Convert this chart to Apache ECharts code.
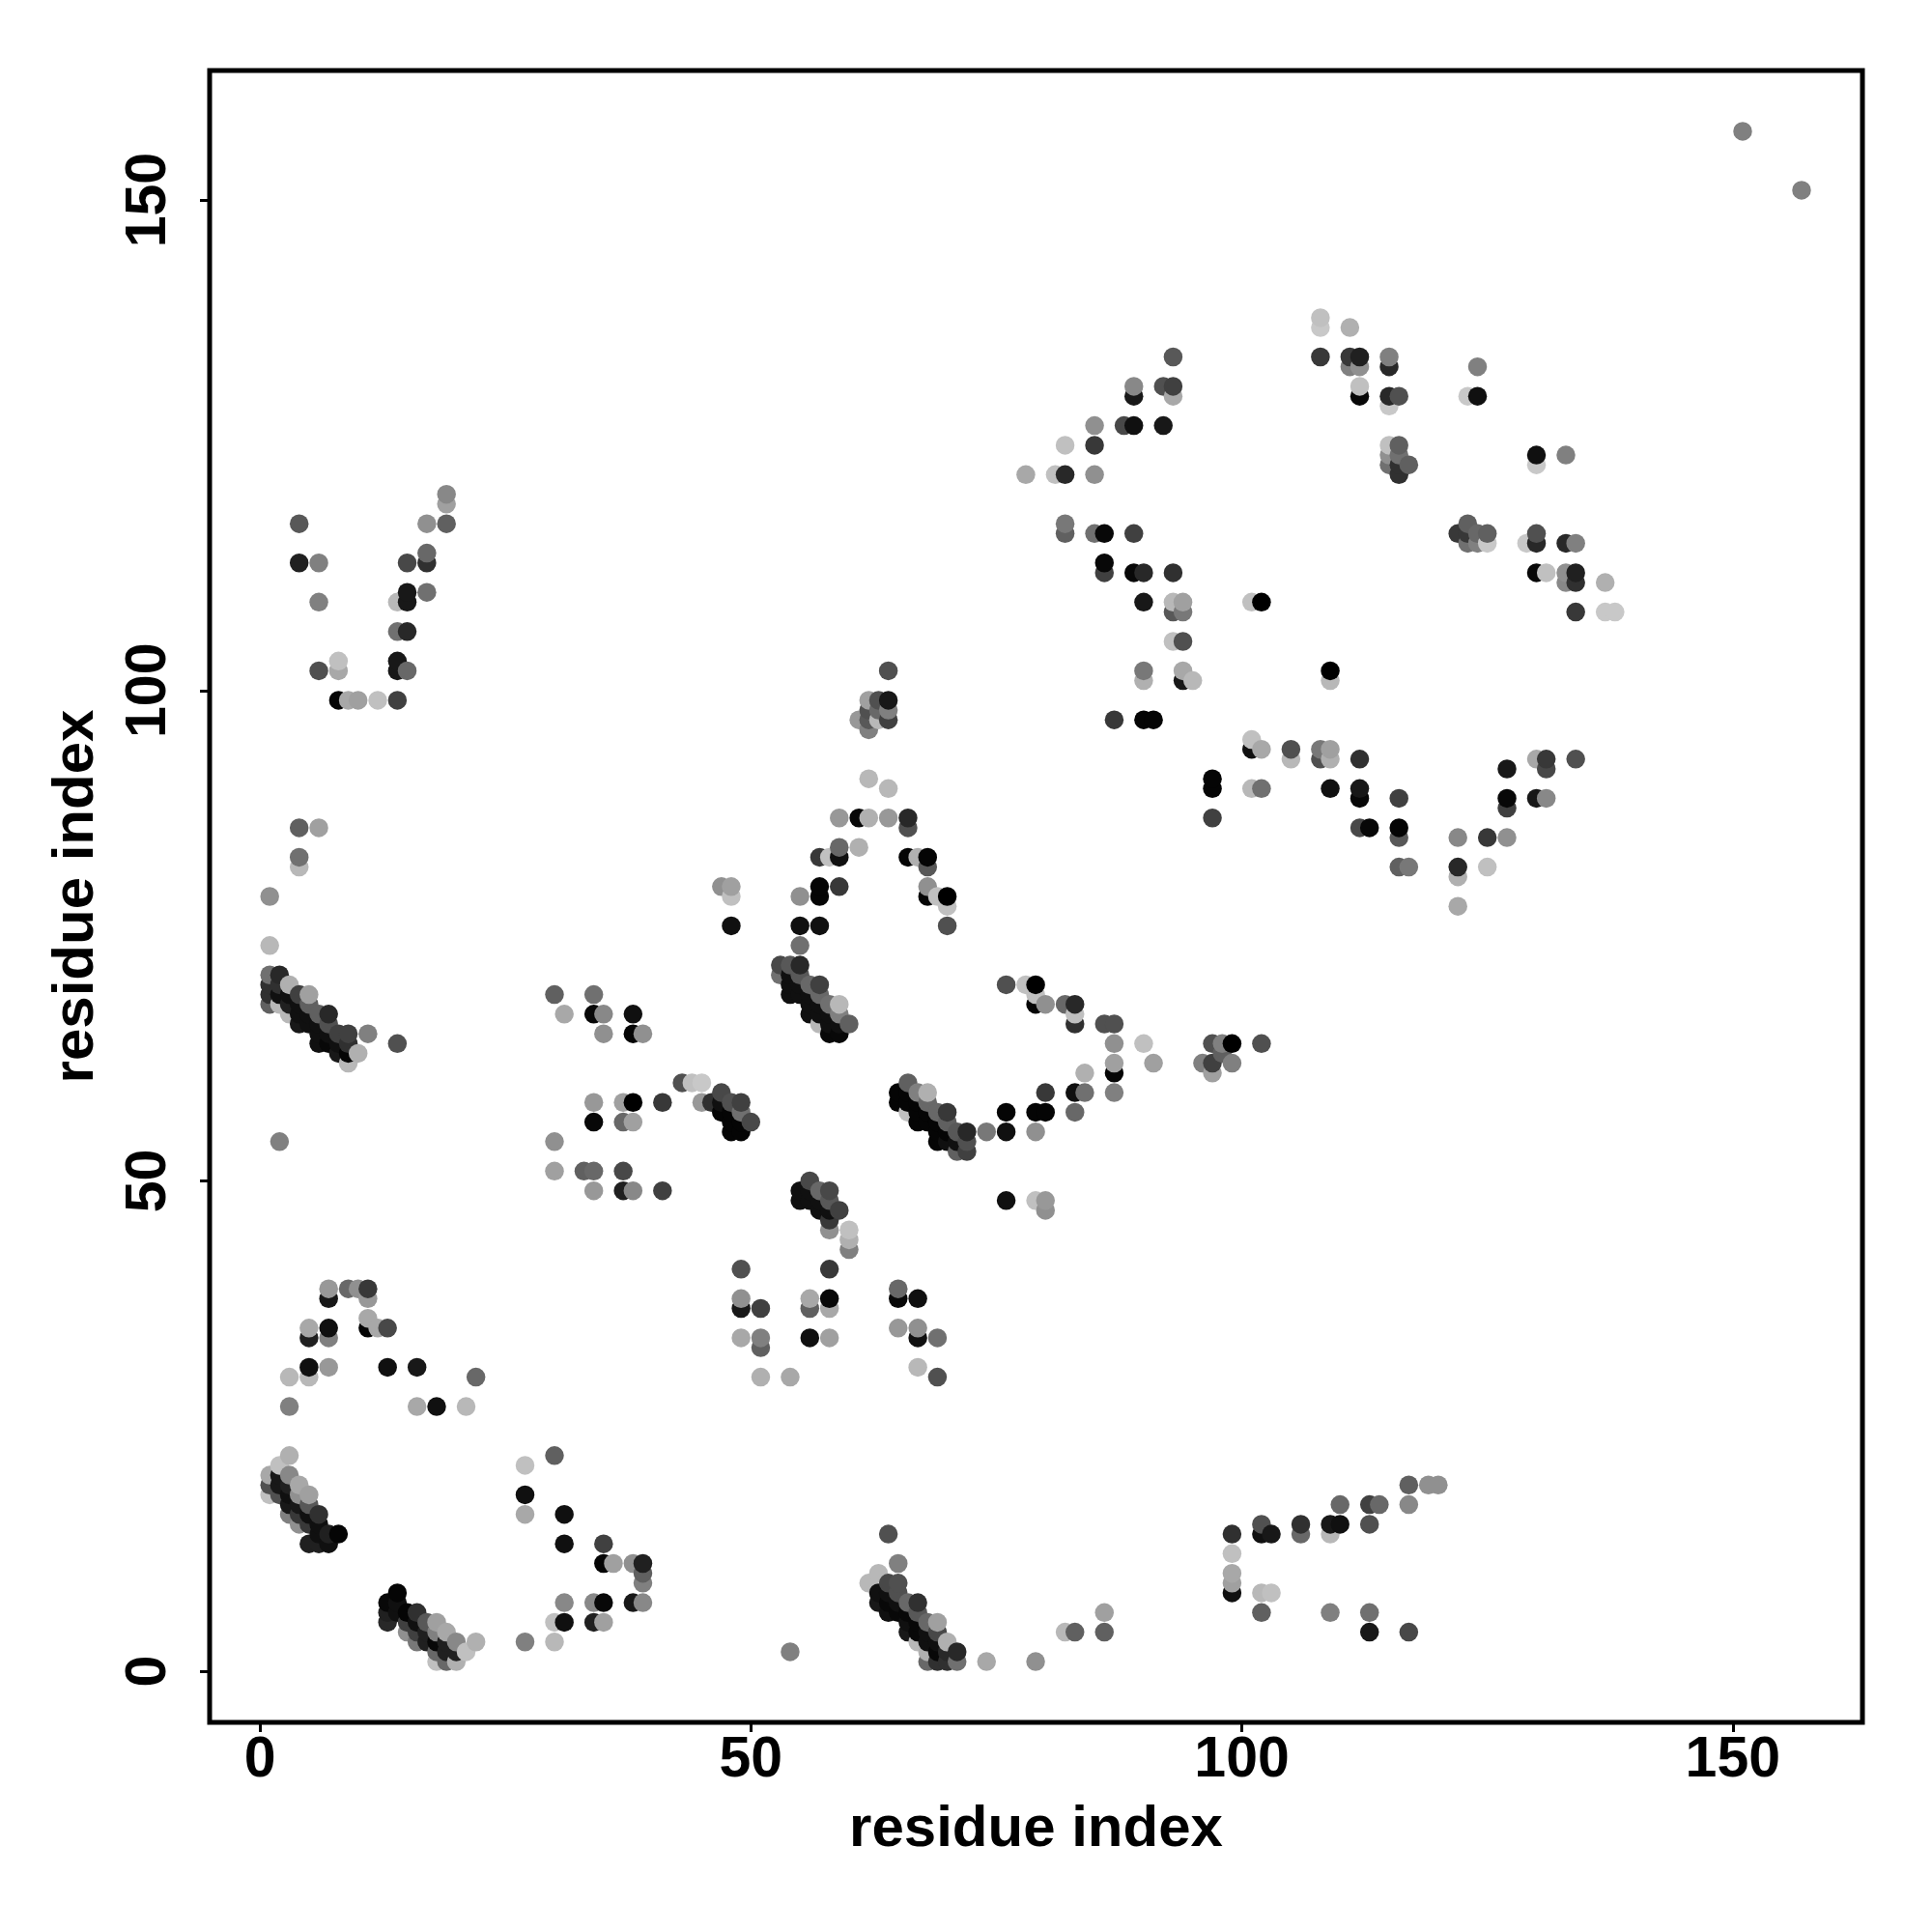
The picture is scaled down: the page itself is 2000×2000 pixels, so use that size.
<!DOCTYPE html>
<html>
<head>
<meta charset="utf-8">
<style>html,body{margin:0;padding:0;background:#fff}#c{width:2000px;height:2000px}</style>
<script src="https://cdn.jsdelivr.net/npm/echarts@6/dist/echarts.min.js"></script>
</head>
<body>
<div id="c"></div>
<script>
// [residue i, residue j, grey shade]
var helixA=[[1,74,0xb8],[1,71,0x70],[1,70,0x30],[1,69,0x30],[1,68,0x60],[2,71,0x28],[2,70,0x30],[2,69,0x10],[2,68,0xb8],[3,70,0xb0],[3,69,0x10],[3,68,0x20],[3,67,0xb8],[4,69,0x40],[4,68,0x10],[4,67,0x10],[4,66,0x18],[5,69,0xa0],[5,68,0x60],[5,67,0x10],[5,66,0x10],[6,67,0x60],[6,66,0x10],[6,65,0x10],[6,64,0x10],[7,67,0x28],[7,66,0x50],[7,65,0x10],[7,64,0x08],[8,65,0x40],[8,64,0x10],[8,63,0x18],[9,65,0x40],[9,64,0x30],[9,63,0x05],[9,62,0xb8],[10,63,0xb0],[11,65,0x80],[14,64,0x50],[2,54,0x80]];
var helixB=[[53,72,0x48],[54,72,0x58],[55,72,0x28],[53,71,0x70],[54,71,0x10],[55,71,0x58],[54,70,0x10],[55,70,0x10],[56,70,0x68],[57,70,0x40],[54,69,0x10],[55,69,0x10],[56,69,0x10],[57,69,0x68],[56,68,0x10],[57,68,0x10],[58,68,0x70],[59,68,0xb8],[56,67,0x10],[57,67,0x10],[58,67,0x10],[59,67,0x80],[57,66,0xb8],[58,66,0x10],[59,66,0x10],[60,66,0x60],[58,65,0x08],[59,65,0x08]];
var helixC=[[66,60,0x60],[65,59,0x05],[66,59,0x05],[67,59,0x80],[68,59,0xb0],[65,58,0x05],[66,58,0x05],[67,58,0x05],[68,58,0x68],[66,57,0xc0],[67,57,0x05],[68,57,0x05],[69,57,0x68],[70,57,0x38],[67,56,0x05],[68,56,0x05],[69,56,0x05],[70,56,0x60],[69,55,0x05],[70,55,0x05],[71,55,0x58],[72,55,0x28],[74,55,0x78],[76,55,0x10],[79,55,0x90],[69,54,0x05],[70,54,0x10],[71,54,0x10],[72,54,0x50],[71,53,0x60],[72,53,0x40],[76,57,0x05],[79,57,0x05],[80,57,0x05],[80,59,0x38],[76,70,0x50],[78,70,0xc0],[79,70,0x00],[79,69,0xc0],[79,68,0x05],[80,68,0x90]];
var helixD=[[56,50,0x48],[55,49,0x10],[56,49,0x10],[57,49,0x68],[58,49,0x48],[55,48,0x10],[56,48,0x10],[57,48,0x10],[58,48,0x58],[57,47,0x10],[58,47,0x10],[59,47,0x40],[58,46,0x38],[58,45,0x90],[60,45,0xc0],[60,44,0xb0],[60,43,0x80],[76,48,0x10],[79,48,0xc0],[80,48,0x98],[80,47,0x90]];
var sheetE=[[83,57,0x68],[83,59,0x10],[84,59,0x70],[84,61,0xb0],[87,59,0x80],[87,61,0x05],[87,62,0xa0],[87,64,0x90],[86,66,0x50],[87,66,0x50],[83,66,0x30],[83,67,0xc0],[83,68,0x28],[82,68,0x68],[90,64,0xc0],[91,62,0xa0],[96,62,0x80],[97,61,0xa0],[97,62,0x40],[97,64,0x50],[98,64,0x80],[98,63,0x60],[99,64,0x00],[99,62,0x80],[102,64,0x50]];
var midF=[[30,69,0x60],[34,69,0x70],[31,67,0xa8],[34,67,0x08],[35,67,0x88],[38,67,0x10],[35,65,0x90],[38,65,0x05],[39,65,0x90],[34,58,0x98],[37,58,0xa0],[38,58,0x00],[41,58,0x38],[45,58,0x98],[46,58,0x30],[34,56,0x08],[37,56,0x68],[38,56,0xa0],[30,54,0x90],[30,51,0xa0],[33,51,0x60],[34,51,0x68],[37,51,0x48],[34,49,0x98],[37,49,0x20],[38,49,0x88],[41,49,0x40],[43,60,0x50],[44,60,0xc0],[45,60,0xc8],[47,59,0x48],[47,58,0x10],[48,58,0x50],[49,58,0x40],[47,57,0x05],[48,57,0x05],[49,57,0x70],[48,56,0x05],[49,56,0x05],[50,56,0x48],[48,55,0x05],[49,55,0x05]];
var helixG=[[3,22,0xb0],[2,21,0xc0],[1,20,0xa8],[2,20,0x18],[3,20,0x88],[1,19,0x50],[2,19,0x18],[3,19,0x20],[4,19,0xa8],[1,18,0xc0],[2,18,0x50],[3,18,0x10],[4,18,0x90],[5,18,0xa0],[3,17,0x18],[4,17,0x18],[5,17,0x58],[3,16,0x80],[4,16,0x38],[5,16,0x10],[6,16,0x30],[4,15,0x90],[5,15,0x38],[6,15,0x10],[6,14,0x10],[7,14,0x20],[8,14,0x05],[5,13,0x20],[6,13,0x20],[7,13,0x10]];
var helixH=[[14,8,0x05],[13,7,0x08],[14,7,0x10],[13,6,0x20],[14,6,0x10],[15,6,0x05],[16,6,0x30],[13,5,0x28],[15,5,0x40],[16,5,0x10],[17,5,0x58],[18,5,0xa0],[15,4,0x90],[16,4,0x40],[17,4,0x20],[18,4,0x80],[19,4,0xa8],[16,3,0x78],[17,3,0x20],[18,3,0x08],[19,3,0x20],[20,3,0x88],[22,3,0xb0],[18,2,0x68],[19,2,0x20],[20,2,0x20],[21,2,0xc0],[18,1,0xc0],[19,1,0x68],[20,1,0xb0]];
var helixI=[[64,14,0x50],[65,11,0x80],[63,10,0xb8],[62,9,0xb8],[64,9,0x48],[65,9,0x50],[63,8,0x10],[64,8,0x10],[65,8,0x50],[63,7,0x18],[64,7,0x08],[65,7,0x10],[66,7,0x68],[67,7,0x30],[64,6,0x10],[65,6,0x08],[66,6,0x08],[67,6,0x58],[66,5,0x10],[67,5,0x08],[68,5,0x68],[69,5,0xa0],[66,4,0x18],[67,4,0x08],[68,4,0x10],[69,4,0x48],[67,3,0xb8],[68,3,0x10],[69,3,0x10],[70,3,0xb0],[68,2,0xb0],[69,2,0x08],[70,2,0x28],[71,2,0x28],[68,1,0x68],[69,1,0x30],[70,1,0x30],[71,1,0x70],[74,1,0xa8]];
var lowJ=[[54,2,0x80],[79,1,0x90],[82,4,0xb8],[83,4,0x60],[86,4,0x60],[86,6,0xa0],[27,3,0x80],[30,3,0xb8],[30,5,0xc0],[31,5,0x10],[31,7,0x88],[27,21,0xc0],[30,22,0x60],[27,18,0x10],[27,16,0xa8],[31,16,0x10],[31,13,0x10],[35,13,0x40],[35,11,0x05],[36,11,0xa0],[38,11,0x90],[39,11,0x20],[39,10,0x60],[39,9,0x80],[38,7,0x18],[39,7,0x88],[34,7,0x88],[35,7,0x08],[34,5,0x20],[35,5,0xa0]];
var midK=[[49,41,0x50],[49,38,0x90],[49,37,0x18],[51,37,0x40],[49,34,0xa8],[51,34,0x80],[51,33,0x60],[51,30,0xb0],[54,30,0xa8],[56,38,0xa8],[58,38,0x08],[56,37,0x60],[58,37,0xa8],[56,34,0x10],[58,34,0xa0],[58,41,0x38],[65,39,0x68],[65,38,0x08],[67,38,0x10],[65,35,0x98],[67,35,0x90],[67,34,0x10],[69,34,0x70],[67,31,0xb8],[69,30,0x50]];
var upperL=[[64,102,0x50],[62,99,0xa0],[63,99,0x50],[64,99,0x18],[62,98,0x50],[63,98,0x68],[64,98,0x80],[61,97,0x98],[62,97,0x58],[63,97,0xb8],[64,97,0x40],[62,96,0x80],[62,91,0xb8],[64,90,0xb8],[59,87,0x98],[61,87,0x08],[62,87,0xb0],[64,87,0x98],[66,87,0x28],[66,86,0x50],[61,84,0xb0],[59,84,0x68],[57,83,0x38],[58,83,0xc0],[59,83,0x10],[66,83,0x05],[67,83,0xb0],[68,83,0x05],[68,82,0x58],[47,80,0x90],[48,80,0xa0],[57,80,0x05],[59,80,0x38],[68,80,0x90],[48,79,0xc0],[55,79,0x90],[57,79,0x05],[68,79,0x05],[69,79,0xc0],[70,79,0x00],[70,78,0xc0],[48,76,0x10],[55,76,0x10],[57,76,0x10],[70,76,0x50],[55,74,0x70]];
var loopM=[[7,39,0x98],[7,38,0x18],[9,39,0x68],[10,39,0x90],[11,39,0x38],[11,38,0x98],[11,36,0xa8],[11,35,0x05],[12,35,0xa8],[13,35,0x48],[5,35,0xa8],[5,34,0x20],[7,35,0x10],[7,34,0x80],[5,31,0x10],[7,31,0x98],[13,31,0x10],[16,31,0x18],[3,30,0xb8],[5,30,0xb8],[22,30,0x68],[3,27,0x80],[16,27,0xa8],[18,27,0x10],[21,27,0xb8]];
var leftN=[[19,120,0x88],[19,119,0xa0],[4,117,0x58],[17,117,0x90],[19,117,0x60],[17,114,0x68],[4,113,0x20],[6,113,0x80],[15,113,0x48],[17,113,0x30],[15,110,0x18],[17,110,0x70],[6,109,0x80],[14,109,0xb8],[15,109,0x18],[14,106,0x70],[15,106,0x28],[8,103,0xc0],[14,103,0x18],[6,102,0x50],[8,102,0xa8],[14,102,0x18],[15,102,0x68],[8,99,0x05],[9,99,0xa8],[10,99,0xa0],[12,99,0xc0],[14,99,0x40],[4,86,0x60],[6,86,0xa0],[4,83,0x70],[4,82,0xb8],[1,79,0x90]];
var upperO=[[93,134,0x58],[89,131,0x88],[92,131,0x50],[93,131,0x40],[89,130,0x18],[93,130,0xa8],[85,127,0x90],[88,127,0x48],[89,127,0x10],[92,127,0x18],[82,125,0xc0],[85,125,0x38],[78,122,0xa8],[81,122,0xc0],[82,122,0x28],[85,122,0x90],[82,117,0x78],[82,116,0x60],[85,116,0x70],[86,116,0x08],[89,116,0x40],[86,113,0x08],[86,112,0x40],[89,112,0x08],[90,112,0x28],[93,112,0x30],[90,109,0x18],[93,109,0xb8],[94,109,0xa0],[101,109,0xc0],[102,109,0x00],[93,108,0x58],[94,108,0x78],[93,105,0xc0],[94,105,0x50],[90,102,0x78],[94,102,0xa8],[109,102,0x00],[90,101,0xb0],[94,101,0x18],[95,101,0xb8],[109,101,0xb8],[87,97,0x38],[90,97,0x05],[91,97,0x05]];
var upperP=[[108,138,0xc0],[108,137,0xc8],[111,137,0xb0],[108,134,0x38],[111,134,0x38],[112,134,0x20],[115,134,0x80],[111,133,0x80],[112,133,0x90],[115,133,0x28],[124,133,0x80],[112,131,0xc0],[112,130,0x08],[115,130,0x28],[116,130,0x50],[123,130,0xc8],[124,130,0x10],[115,129,0xc8],[115,125,0xc0],[116,125,0x60],[115,124,0x90],[116,124,0x70],[130,124,0x10],[133,124,0x80],[115,123,0x70],[116,123,0x30],[117,123,0x60],[130,123,0xc8],[116,122,0x30],[123,117,0x60],[122,116,0x38],[123,116,0x38],[124,116,0x68],[125,116,0x60],[130,116,0x50],[123,115,0x70],[124,115,0x80],[125,115,0xc8],[129,115,0xc8],[130,115,0x28],[133,115,0x28],[134,115,0x80],[130,112,0x08],[131,112,0xc0],[133,112,0x90],[134,112,0x20],[133,111,0x88],[134,111,0x30],[137,111,0xb0],[134,108,0x38],[137,108,0xc8],[138,108,0xc8],[151,157,0x80],[157,151,0x80]];
var upperQ=[[101,95,0xc0],[101,94,0x10],[102,94,0xa8],[105,94,0x50],[105,93,0xb8],[108,94,0x78],[109,94,0xa0],[108,93,0x50],[109,93,0xb0],[112,93,0x30],[97,91,0x05],[97,90,0x05],[97,87,0x40],[101,90,0xb8],[102,90,0x70],[109,90,0x10],[112,90,0x18],[112,89,0x08],[116,89,0x40],[112,86,0x48],[113,86,0x08],[116,86,0x05],[116,85,0x58],[122,85,0x88],[125,85,0x38],[127,85,0x90],[127,92,0x18],[127,89,0x08],[127,88,0x40],[130,89,0x18],[131,89,0x88],[130,93,0xa8],[131,93,0x38],[131,92,0x48],[134,93,0x50],[116,82,0x60],[117,82,0x78],[122,82,0x28],[122,81,0xb0],[125,82,0xc0],[122,78,0xa8]];
var lowR=[[99,14,0x30],[99,12,0xc0],[99,10,0xa8],[99,9,0xa0],[99,8,0x10],[102,15,0x50],[102,14,0x10],[103,14,0x18],[106,15,0x30],[106,14,0x68],[109,14,0xb8],[109,15,0x18],[110,15,0x10],[110,17,0x68],[113,17,0x40],[114,17,0x68],[113,15,0x50],[117,19,0x60],[117,17,0x88],[119,19,0x90],[120,19,0x90],[102,8,0xb8],[103,8,0xc0],[102,6,0x60],[109,6,0x80],[113,6,0x70],[113,4,0x18],[117,4,0x48]];
var tickValues=[0,50,100,150];
var axisTitle="residue index";

var points=[].concat(helixA,helixB,helixC,helixD,sheetE,midF,helixG,helixH,helixI,lowJ,midK,upperL,loopM,leftN,upperO,upperP,upperQ,lowR);
points.sort(function(a,b){return a[0]-b[0]||a[1]-b[1];});

function axis(extra){
  return Object.assign({
    type:"value",name:axisTitle,nameLocation:"middle",nameMoveOverlap:false,
    nameTextStyle:{fontFamily:"Liberation Sans",fontWeight:"bold",fontSize:60,color:"#000"},
    splitLine:{show:false},
    axisLine:{show:false,onZero:false},
    axisTick:{show:true,length:10,inside:false,customValues:tickValues,lineStyle:{color:"#000",width:3}}
  },extra);
}
var labelFont={fontFamily:"Liberation Sans",fontWeight:"bold",fontSize:59,color:"#000"};
var chart=echarts.init(document.getElementById("c"),null,{renderer:"canvas",width:2000,height:2000});
chart.setOption({
  animation:false,
  backgroundColor:"#fff",
  grid:{left:217,top:73,width:1711,height:1710,show:true,borderColor:"#000",borderWidth:5,backgroundColor:"transparent",containLabel:false},
  xAxis:axis({min:-5.12,max:163.2,nameGap:81,axisLabel:Object.assign({show:true,customValues:tickValues,margin:10},labelFont)}),
  yAxis:axis({min:-5.2,max:163.2,nameGap:108,axisLabel:Object.assign({show:true,rotate:90,customValues:tickValues,margin:33},labelFont)}),
  series:[{
    type:"scatter",symbol:"circle",symbolSize:19.5,
    data:points,
    encode:{x:0,y:1},
    itemStyle:{opacity:1,color:function(p){var g=p.value[2];return "rgb("+g+","+g+","+g+")";}}
  }]
});
</script>
</body>
</html>
